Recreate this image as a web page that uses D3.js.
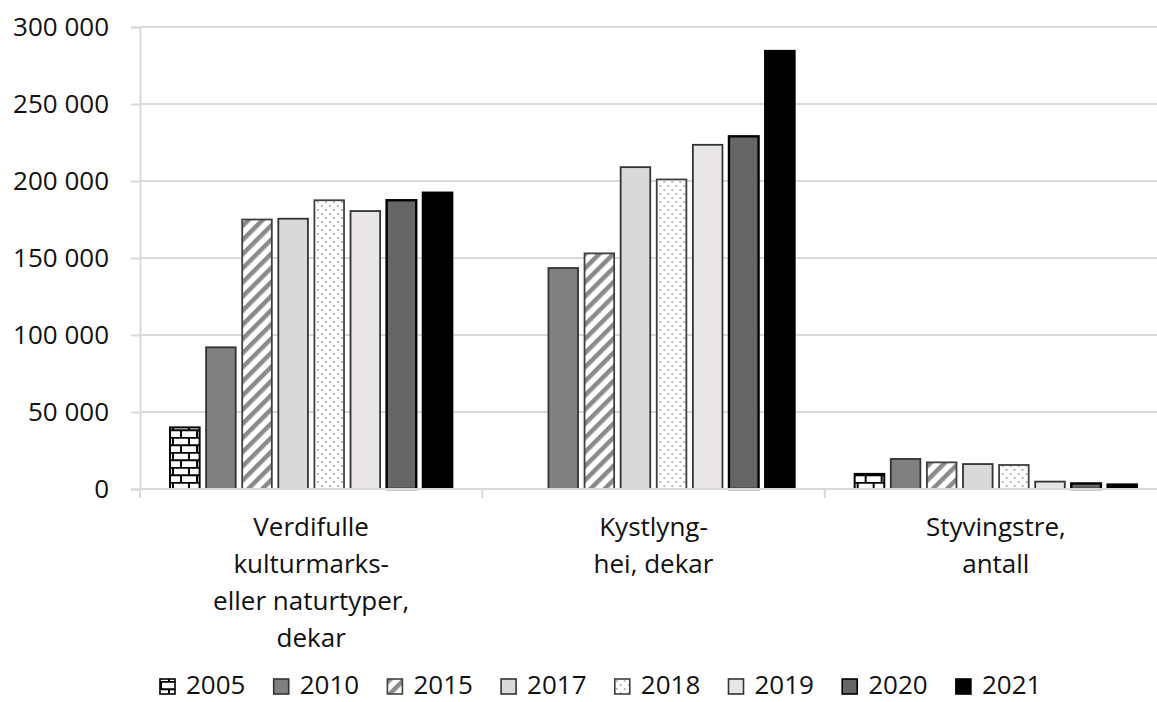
<!DOCTYPE html>
<html>
<head>
<meta charset="utf-8">
<script src="https://cdn.jsdelivr.net/npm/d3@7"></script>
<style>
  body { margin: 0; background: #fff; }
  svg text { font-family: "Open Sans", "Liberation Sans", sans-serif; fill: #111; }
</style>
</head>
<body>
<div id="chart"></div>
<script>
// categories (each label split into lines)
const categories = ["Verdifulle kulturmarks- eller naturtyper, dekar", "Kystlyng- hei, dekar", "Styvingstre, antall"];
const categoryLines = [
  ["Verdifulle", "kulturmarks-", "eller naturtyper,", "dekar"],
  ["Kystlyng-", "hei, dekar"],
  ["Styvingstre,", "antall"]
];
const years = ["2005", "2010", "2015", "2017", "2018", "2019", "2020", "2021"];

// values per year, one per category
const v2005 = [40000, 0, 9800];
const v2010 = [92000, 143500, 19500];
const v2015 = [175000, 153000, 17300];
const v2017 = [175500, 209000, 16200];
const v2018 = [187500, 201000, 15600];
const v2019 = [180500, 223500, 4800];
const v2020 = [187500, 229000, 3600];
const v2021 = [192500, 284500, 3000];
const series = [v2005, v2010, v2015, v2017, v2018, v2019, v2020, v2021];

const yTicks = [0, 50000, 100000, 150000, 200000, 250000, 300000];

const width = 1157, height = 702;
const svg = d3.select("#chart").append("svg")
  .attr("width", width)
  .attr("height", height);

const defs = svg.append("defs");

// brick pattern for 2005
const brick = defs.append("pattern")
  .attr("id", "brick")
  .attr("patternUnits", "userSpaceOnUse")
  .attr("width", 16).attr("height", 15)
  .attr("x", 0).attr("y", 2);
brick.append("rect").attr("width", 16).attr("height", 15).attr("fill", "#fff");
brick.append("path")
  .attr("d", "M0,0.8H16M0,8.3H16M1,0V8.3M9,8.3V15")
  .attr("stroke", "#000").attr("stroke-width", 2).attr("fill", "none");

// diagonal stripes for 2015
const stripes = defs.append("pattern")
  .attr("id", "stripes")
  .attr("patternUnits", "userSpaceOnUse")
  .attr("width", 10).attr("height", 10)
  .attr("patternTransform", "rotate(45)");
stripes.append("rect").attr("width", 10).attr("height", 10).attr("fill", "#fff");
stripes.append("rect").attr("width", 4.5).attr("height", 10).attr("fill", "#8a8a8a");

// dots for 2018
const dots = defs.append("pattern")
  .attr("id", "dots")
  .attr("patternUnits", "userSpaceOnUse")
  .attr("width", 8).attr("height", 8);
dots.append("rect").attr("width", 8).attr("height", 8).attr("fill", "#fff");
dots.append("circle").attr("cx", 2).attr("cy", 2).attr("r", 0.9).attr("fill", "#999");
dots.append("circle").attr("cx", 6).attr("cy", 6).attr("r", 0.9).attr("fill", "#999");

const fills = ["url(#brick)", "#808080", "url(#stripes)", "#d9d9d9", "url(#dots)", "#e8e6e6", "#666666", "#000000"];
const strokes = ["#000", "#333", "#404040", "#333", "#404040", "#333", "#000", "#000"];
const strokeW = [2, 1.8, 1.8, 1.8, 1.8, 1.8, 2.4, 2];

const x = d3.scaleBand().domain(categories).range([140, 1167]);
const xIn = d3.scaleBand().domain(years).range([30, x.bandwidth() - 30])
  .paddingInner(0.18).paddingOuter(0);
const y = d3.scaleLinear().domain([0, 300000]).range([489, 27]);

// gridlines
svg.append("g")
  .selectAll("line")
  .data(yTicks.slice(1))
  .join("line")
  .attr("x1", 140).attr("x2", 1167)
  .attr("y1", d => y(d)).attr("y2", d => y(d))
  .attr("stroke", "#d9d9d9").attr("stroke-width", 2);

// y axis
const yAxis = svg.append("g")
  .attr("transform", "translate(140,0)")
  .call(d3.axisLeft(y).tickValues(yTicks).tickSize(9).tickPadding(22)
    .tickFormat(d => d3.format(",")(d).replace(/,/g, " ")));
yAxis.select(".domain").attr("stroke", "#d9d9d9").attr("stroke-width", 2);
yAxis.selectAll(".tick line").attr("stroke", "#d9d9d9").attr("stroke-width", 2);
yAxis.selectAll(".tick text")
  .attr("font-size", 26)
  .attr("font-family", "'Open Sans', sans-serif")
  .attr("fill", "#111");

// bars
const groups = svg.append("g")
  .selectAll("g")
  .data(categories)
  .join("g")
  .attr("transform", d => `translate(${x(d)},0)`);

groups.selectAll("rect")
  .data((c, ci) => years.map((yr, yi) => ({ yr, yi, v: series[yi][ci] })).filter(d => d.v > 0))
  .join("rect")
  .attr("x", d => xIn(d.yr))
  .attr("width", xIn.bandwidth())
  .attr("y", d => y(d.v))
  .attr("height", d => y(0) - y(d.v))
  .attr("fill", d => fills[d.yi])
  .attr("stroke", d => strokes[d.yi])
  .attr("stroke-width", d => strokeW[d.yi]);

// x axis baseline and ticks
const xAxisG = svg.append("g");
xAxisG.append("line")
  .attr("x1", 140).attr("x2", 1167)
  .attr("y1", y(0)).attr("y2", y(0))
  .attr("stroke", "#d9d9d9").attr("stroke-width", 2);
xAxisG.selectAll(".xt")
  .data(categories)
  .join("line")
  .attr("class", "xt")
  .attr("x1", d => x(d)).attr("x2", d => x(d))
  .attr("y1", y(0)).attr("y2", y(0) + 9)
  .attr("stroke", "#d9d9d9").attr("stroke-width", 2);

// category labels
categoryLines.forEach((lines, i) => {
  const cx = x(categories[i]) + x.bandwidth() / 2;
  svg.append("text")
    .attr("text-anchor", "middle")
    .attr("font-size", 26)
    .selectAll("tspan")
    .data(lines)
    .join("tspan")
    .attr("x", cx)
    .attr("y", (d, j) => 536 + j * 37)
    .text(d => d);
});

// legend
const legend = svg.append("g")
  .selectAll("g")
  .data(years)
  .join("g")
  .attr("transform", (d, i) => `translate(${160 + i * 113.7},679)`);
legend.append("rect")
  .attr("width", 15).attr("height", 15)
  .attr("fill", (d, i) => fills[i])
  .attr("stroke", (d, i) => strokes[i])
  .attr("stroke-width", 1.6);
legend.append("text")
  .attr("x", 26).attr("y", 15)
  .attr("font-size", 26)
  .text(d => d);
</script>
</body>
</html>
